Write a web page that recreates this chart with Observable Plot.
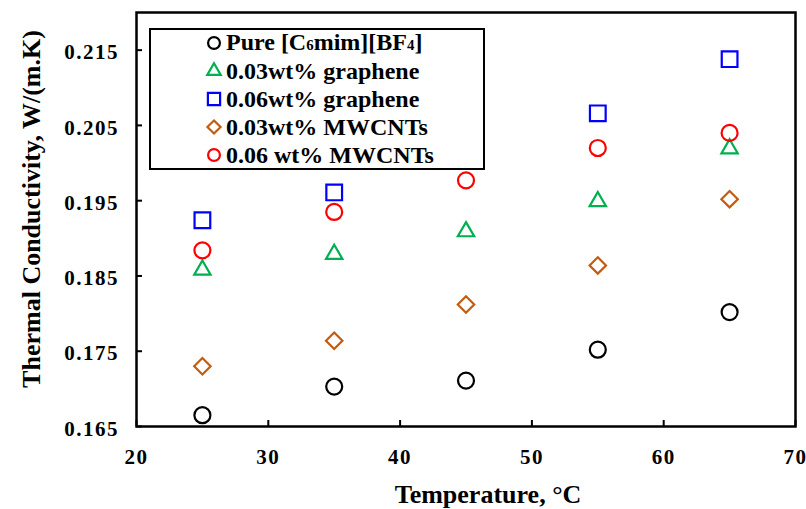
<!DOCTYPE html>
<html>
<head>
<meta charset="utf-8">
<script src="https://cdn.jsdelivr.net/npm/d3@7"></script>
<script src="https://cdn.jsdelivr.net/npm/@observablehq/plot@0.6"></script>
<style>
  body { margin: 0; background: #fff; }
  #wrap { position: relative; width: 806px; height: 509px; font-family: "Liberation Serif", "Times New Roman", serif; font-weight: bold; }
  #legend { position: absolute; left: 149px; top: 28px; width: 332px; height: 138px; border: 2px solid #000; background: #fff; }
  .row { position: absolute; left: 0; height: 28px; display: flex; align-items: center; font-size: 24px; line-height: 28px; white-space: nowrap; }
  .row svg { position: absolute; left: 53px; }
  .row span.t { position: absolute; left: 75px; }
  .sub { font-size: 62%; }
  g[aria-label="x-axis tick label"] text, g[aria-label="y-axis tick label"] text { letter-spacing: 1.5px; }
</style>
</head>
<body>
<div id="wrap"></div>
<script>
const temperature = [25, 35, 45, 55, 65];
const pure   = [0.1665, 0.1703, 0.1711, 0.1752, 0.1802];
const gr003  = [0.1858, 0.1879, 0.1909, 0.1949, 0.2019];
const gr006  = [0.1924, 0.1961, 0.2037, 0.2066, 0.2138];
const mw003  = [0.1730, 0.1764, 0.1812, 0.1864, 0.1952];
const mw006  = [0.1884, 0.1935, 0.1977, 0.2020, 0.2040];
const seriesNames = ["Pure [C6mim][BF4]", "0.03wt% graphene", "0.06wt% graphene", "0.03wt% MWCNTs", "0.06 wt% MWCNTs"];
const xTicks = [20, 30, 40, 50, 60, 70];
const yTicks = [0.165, 0.175, 0.185, 0.195, 0.205, 0.215];

const series = [
  {name: seriesNames[0], values: pure,  color: "#000000", symbol: "circle",    r: 8},
  {name: seriesNames[1], values: gr003, color: "#00B050", symbol: "triangle2", r: 7.8},
  {name: seriesNames[2], values: gr006, color: "#0000FF", symbol: "square2",   r: 10},
  {name: seriesNames[3], values: mw003, color: "#C55A11", symbol: "diamond2",  r: 7.4},
  {name: seriesNames[4], values: mw006, color: "#FF0000", symbol: "circle",    r: 8}
];

const dotMarks = series.map(s => Plot.dot(
  temperature.map((t, i) => ({t, v: s.values[i]})),
  {x: "t", y: "v", symbol: () => s.symbol, r: s.r, stroke: s.color, strokeWidth: 2.2, fill: "none"}
));

const chart = Plot.plot({
  width: 806,
  height: 509,
  marginLeft: 136,
  marginRight: 11,
  marginTop: 12,
  marginBottom: 83,
  style: {fontFamily: "'Liberation Serif', 'Times New Roman', serif", fontSize: "21px", fontWeight: "bold", color: "#000", background: "#fff"},
  x: {domain: [20, 70], ticks: xTicks},
  y: {domain: [0.165, 0.220], ticks: yTicks},
  symbol: {type: "identity"},
  marks: [
    Plot.axisX(xTicks, {tickSize: 0, tickPadding: 23, label: null, fontSize: 21, tickFormat: d3.format("d")}),
    Plot.axisX(xTicks, {tickSize: 6, dy: -6, text: null, label: null, strokeWidth: 2}),
    Plot.axisY(yTicks, {tickSize: 0, tickPadding: 17.5, dy: 2.5, label: null, fontSize: 21, tickFormat: d3.format(".3f")}),
    Plot.axisY(yTicks, {tickSize: 6, dx: 6, text: null, label: null, strokeWidth: 2}),
    Plot.frame({stroke: "#000", strokeWidth: 2.5}),
    ...dotMarks,
    Plot.text(["Temperature, °C"], {text: d => d, frameAnchor: "bottom", lineAnchor: "middle", textAnchor: "middle", dy: 68, dx: 22, fontSize: 26, fontWeight: "bold"}),
    Plot.text(["Thermal Conductivity, W/(m.K)"], {text: d => d, frameAnchor: "left", lineAnchor: "middle", textAnchor: "middle", rotate: -90, dx: -105, dy: -10.5, fontSize: 26, fontWeight: "bold"})
  ]
});

const wrap = document.getElementById("wrap");
wrap.appendChild(chart);

// Legend (HTML overlay)
const legend = document.createElement("div");
legend.id = "legend";
const symPath = {
  circle: d3.symbol(d3.symbolCircle, 110)(),
  triangle2: d3.symbol(d3.symbolTriangle2, 130)(),
  square2: d3.symbol(d3.symbolSquare2, 190)(),
  diamond2: d3.symbol(d3.symbolDiamond2, 110)()
};
const labelsHTML = [
  'Pure [C<span class="sub">6</span>mim][BF<span class="sub">4</span>]',
  seriesNames[1], seriesNames[2], seriesNames[3], seriesNames[4]
];
series.forEach((s, i) => {
  const row = document.createElement("div");
  row.className = "row";
  row.style.top = (-1 + i * 28) + "px";
  row.innerHTML = `<svg width="20" height="28" viewBox="-10 -14 20 28"><path d="${symPath[s.symbol]}" fill="none" stroke="${s.color}" stroke-width="2.2"/></svg><span class="t">${labelsHTML[i]}</span>`;
  legend.appendChild(row);
});
wrap.appendChild(legend);
</script>
</body>
</html>
